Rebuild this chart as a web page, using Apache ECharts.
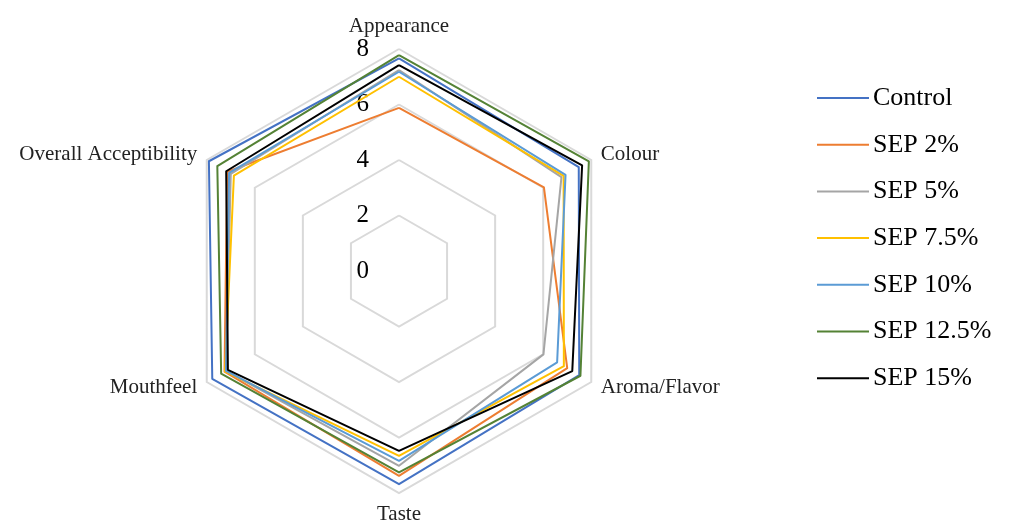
<!DOCTYPE html>
<html>
<head>
<meta charset="utf-8">
<script src="https://cdn.jsdelivr.net/npm/echarts@6/dist/echarts.min.js"></script>
<style>
html,body{margin:0;padding:0;background:#fff;}
#chart{width:1011px;height:525px;}
</style>
</head>
<body>
<div id="chart"></div>
<script>
// Attributes in reference (clockwise from top)
const attributes = ['Appearance', 'Colour', 'Aroma/Flavor', 'Taste', 'Mouthfeel', 'Overall Acceptibility'];
const seriesNames = ['Control', 'SEP 2%', 'SEP 5%', 'SEP 7.5%', 'SEP 10%', 'SEP 12.5%', 'SEP 15%'];
const seriesColors = ['#4472C4', '#ED7D31', '#A5A5A5', '#FFC000', '#5B9BD5', '#548235', '#000000'];
// values in attribute order above
const control  = [7.66, 7.48, 7.50, 7.68, 7.77, 7.91];
const sep2     = [5.88, 6.03, 7.00, 7.38, 7.26, 7.15];
const sep5     = [7.24, 6.76, 6.01, 7.02, 7.20, 7.00];
const sep7_5   = [7.00, 6.85, 6.86, 6.66, 7.24, 6.87];
const sep10    = [7.18, 6.93, 6.58, 6.84, 7.20, 7.07];
const sep12_5  = [7.78, 7.90, 7.55, 7.26, 7.40, 7.56];
const sep15    = [7.42, 7.62, 7.21, 6.48, 7.12, 7.19];
const allValues = [control, sep2, sep5, sep7_5, sep10, sep12_5, sep15];
const axisMin = 0, axisMax = 8, splitCount = 4;

// ECharts radar goes counter-clockwise; reorder so visual order is clockwise
const order = [0, 5, 4, 3, 2, 1];
const indicator = order.map((i, k) => {
  const o = { name: attributes[i], min: axisMin, max: axisMax };
  if (k === 0) o.axisLabel = { show: true };
  return o;
});

const chart = echarts.init(document.getElementById('chart'), null, { renderer: 'canvas' });
chart.setOption({
  animation: false,
  backgroundColor: '#ffffff',
  legend: {
    orient: 'vertical',
    left: 817,
    top: 85,
    padding: 0,
    itemWidth: 52,
    itemHeight: 2,
    itemGap: 20.7,
    icon: 'rect',
    data: seriesNames,
    textStyle: { fontFamily: 'Liberation Serif', fontSize: 26, color: '#000', lineHeight: 26, padding: [0, 0, 0, -1] }
  },
  radar: {
    center: [399, 271],
    radius: 222,
    startAngle: 90,
    shape: 'polygon',
    splitNumber: splitCount,
    indicator: indicator,
    axisName: { color: '#222', fontFamily: 'Liberation Serif', fontSize: 21 },
    nameGap: 11,
    axisLine: { show: false },
    axisTick: { show: false },
    splitArea: { show: false },
    splitLine: { lineStyle: { color: '#D9D9D9', width: 2 } },
    axisLabel: { show: false, color: '#000', fontFamily: 'Liberation Serif', fontSize: 25, margin: 30 }
  },
  series: seriesNames.map((name, s) => ({
    type: 'radar',
    name: name,
    symbol: 'none',
    lineStyle: { color: seriesColors[s], width: 2 },
    itemStyle: { color: seriesColors[s] },
    z: 2 + s,
    data: [{ name: name, value: order.map(i => allValues[s][i]) }]
  }))
});
</script>
</body>
</html>
